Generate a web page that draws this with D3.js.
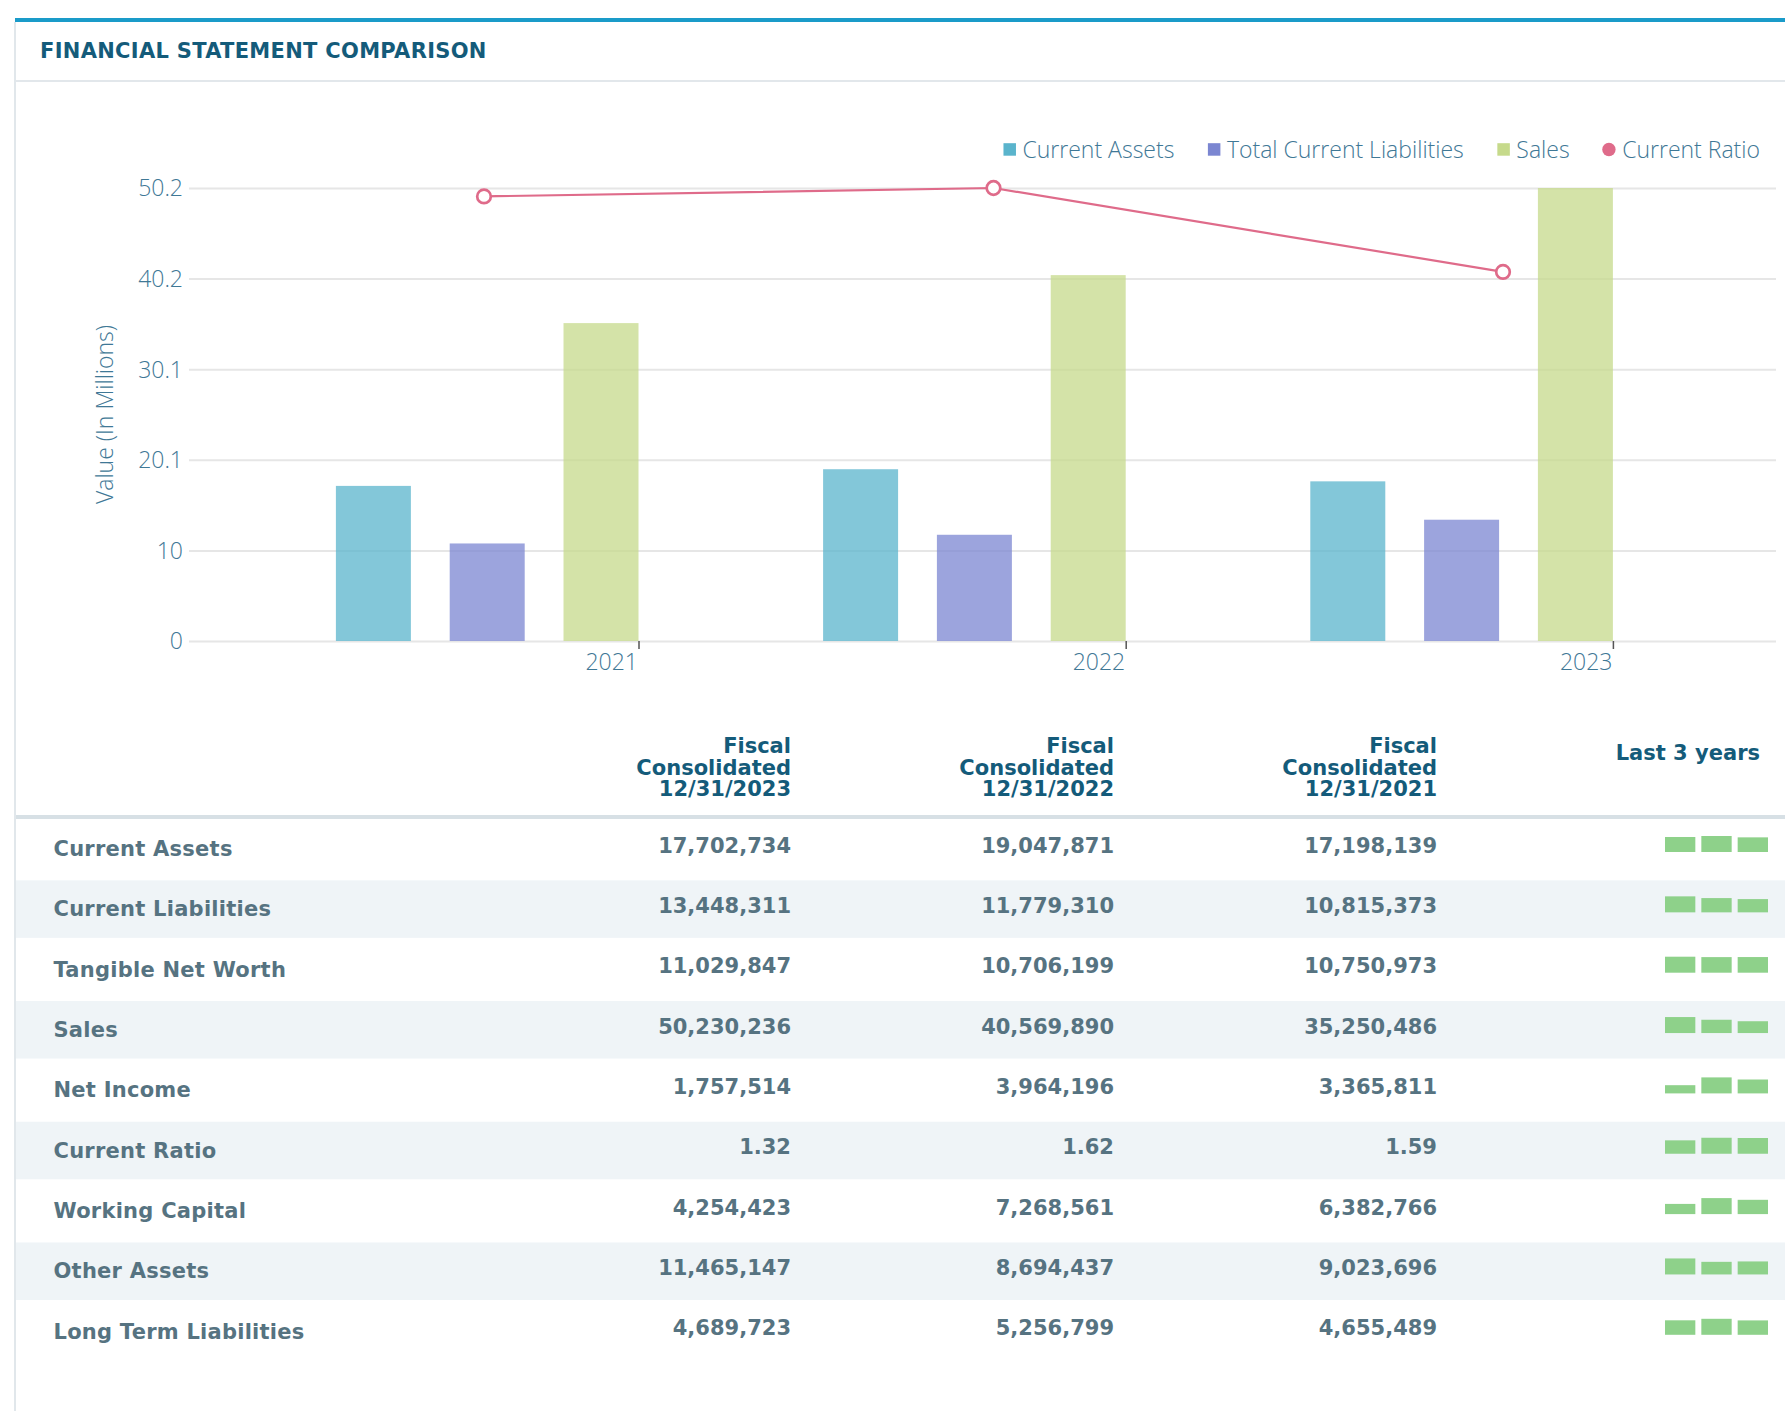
<!DOCTYPE html>
<html><head><meta charset="utf-8">
<script src="https://cdn.jsdelivr.net/npm/d3@7"></script>
<style>
html,body{margin:0;padding:0;background:#fff;}
svg{display:block;}
</style></head><body>
<svg id="c" width="1785" height="1411"></svg>
<script>
// ---------------- DATA ----------------
const years = ["2021", "2022", "2023"];
const seriesNames = ["Current Assets", "Total Current Liabilities", "Sales"];
const currentAssets = [17.198139, 19.047871, 17.702734];
const totalCurrentLiabilities = [10.815373, 11.779310, 13.448311];
const sales = [35.250486, 40.569890, 50.230236];
const currentRatio = [1.59, 1.62, 1.32];
const yTickValues = [0, 10.046, 20.092, 30.138, 40.184, 50.230236];
const yTickLabels = ["0", "10", "20.1", "30.1", "40.2", "50.2"];
const legendLabels = ["Current Assets", "Total Current Liabilities", "Sales", "Current Ratio"];
const seriesColors = ["#5ab4cc", "#7b86d1", "#c6da8b", "#df6b8a"];

const tableTitle = "FINANCIAL STATEMENT COMPARISON";
const columnHeaders = [
  ["Fiscal", "Consolidated", "12/31/2023"],
  ["Fiscal", "Consolidated", "12/31/2022"],
  ["Fiscal", "Consolidated", "12/31/2021"]
];
const trendHeader = "Last 3 years";
const rowLabels = ["Current Assets", "Current Liabilities", "Tangible Net Worth", "Sales", "Net Income",
  "Current Ratio", "Working Capital", "Other Assets", "Long Term Liabilities"];
const values2023 = [17702734, 13448311, 11029847, 50230236, 1757514, 1.32, 4254423, 11465147, 4689723];
const values2022 = [19047871, 11779310, 10706199, 40569890, 3964196, 1.62, 7268561, 8694437, 5256799];
const values2021 = [17198139, 10815373, 10750973, 35250486, 3365811, 1.59, 6382766, 9023696, 4655489];
const ratioRows = ["Current Ratio"];

// ---------------- STYLE ----------------
const FONT_C = "'Open Sans', 'Noto Sans', sans-serif";
const FONT_T = "'DejaVu Sans', sans-serif";
const CHART_FS = 23;
const AXIS_COLOR = "#3f7896";
const HEAD_COLOR = "#145b7a";
const ROW_COLOR = "#567381";

const svg = d3.select("#c");

// frame
svg.append("rect").attr("x", 15).attr("y", 18).attr("width", 1770).attr("height", 4).attr("fill", "#1a9bc9");
svg.append("rect").attr("x", 14).attr("y", 22).attr("width", 2).attr("height", 1389).attr("fill", "#e1e7eb");
svg.append("rect").attr("x", 16).attr("y", 80).attr("width", 1769).attr("height", 2).attr("fill", "#e2e7eb");
svg.append("text").attr("x", 40).attr("y", 58).text(tableTitle)
  .attr("font-family", FONT_T).attr("font-weight", "bold").attr("font-size", 21)
  .attr("letter-spacing", 0.3).attr("fill", HEAD_COLOR);

// ---------------- CHART ----------------
const plotLeft = 189, plotRight = 1776, plotTop = 188, plotBottom = 641;
const y = d3.scaleLinear().domain([0, d3.max(sales)]).range([plotBottom, plotTop]);
const yLine = d3.scaleLinear().domain([0, d3.max(currentRatio)]).range([plotBottom, plotTop]);
const xGroup = d3.scalePoint().domain(years).range([487.2, 1461.6]);
const xSub = d3.scaleBand().domain(seriesNames).range([-151.3, 151.3]).paddingInner(0.341);
const xLine = d3.scalePoint().domain(years).range([484, 1503]);

// y axis + grid
const yAxis = d3.axisLeft(y).tickValues(yTickValues).tickFormat((d, i) => yTickLabels[i])
  .tickSize(-(plotRight - plotLeft)).tickPadding(6);
const gy = svg.append("g").attr("transform", `translate(${plotLeft},0)`).call(yAxis);
gy.select(".domain").remove();
gy.selectAll(".tick line").attr("stroke", "#e6e6e6").attr("stroke-width", 2);
gy.selectAll(".tick text").attr("font-family", FONT_C).attr("font-weight", 300).attr("font-size", CHART_FS)
  .attr("fill", AXIS_COLOR).attr("dy", "0.34em");

svg.append("text").attr("transform", `translate(113,${(plotTop + plotBottom) / 2}) rotate(-90)`)
  .attr("text-anchor", "middle").text("Value (In Millions)")
  .attr("font-family", FONT_C).attr("font-weight", 300).attr("font-size", CHART_FS).attr("fill", AXIS_COLOR);

// bars
const seriesData = [currentAssets, totalCurrentLiabilities, sales];
const barG = svg.append("g");
seriesNames.forEach((name, si) => {
  barG.selectAll(null).data(years).enter().append("rect")
    .attr("x", d => xGroup(d) + xSub(name))
    .attr("width", xSub.bandwidth())
    .attr("y", (d, i) => y(seriesData[si][i]))
    .attr("height", (d, i) => y(0) - y(seriesData[si][i]))
    .attr("fill", seriesColors[si]).attr("fill-opacity", 0.75);
});

// x axis
const xAxis = d3.axisBottom(xGroup).tickSize(8).tickPadding(5);
const gx = svg.append("g").attr("transform", `translate(${xSub.range()[1]},${plotBottom})`).call(xAxis);
gx.select(".domain").remove();
gx.selectAll(".tick line").attr("stroke", "#555").attr("stroke-width", 1.5);
gx.selectAll(".tick text").attr("text-anchor", "end").attr("x", -1)
  .attr("font-family", FONT_C).attr("font-weight", 300).attr("font-size", CHART_FS).attr("fill", AXIS_COLOR);

// line
const line = d3.line().x((d, i) => xLine(years[i])).y(d => yLine(d));
svg.append("path").datum(currentRatio).attr("d", line).attr("fill", "none")
  .attr("stroke", seriesColors[3]).attr("stroke-width", 2.2);
svg.selectAll(null).data(currentRatio).enter().append("circle")
  .attr("cx", (d, i) => xLine(years[i])).attr("cy", d => yLine(d)).attr("r", 6.8)
  .attr("fill", "#fff").attr("stroke", seriesColors[3]).attr("stroke-width", 2.7);

// legend (right aligned)
const legG = svg.append("g");
const legY = 149.5;
let cursor = 1760;
const legItems = legendLabels.map((lab, i) => ({ lab, i }));
for (let k = legItems.length - 1; k >= 0; k--) {
  const it = legItems[k];
  const t = legG.append("text").text(it.lab).attr("font-family", FONT_C).attr("font-weight", 300)
    .attr("font-size", CHART_FS).attr("fill", AXIS_COLOR).attr("y", legY + 8.2);
  const w = t.node().getComputedTextLength();
  t.attr("x", cursor - w);
  const symRight = cursor - w - 6.5;
  if (k === 3) {
    legG.append("circle").attr("cx", symRight - 6.7).attr("cy", legY).attr("r", 6.7).attr("fill", seriesColors[k]);
  } else {
    legG.append("rect").attr("x", symRight - 12.5).attr("y", legY - 6.3).attr("width", 12.5).attr("height", 12.5)
      .attr("fill", seriesColors[k]);
  }
  cursor = symRight - 13 - 33;
}

// ---------------- TABLE ----------------
const colRight = [791, 1114, 1437];
const headerBaselines = [753.3, 774.5, 795.7];
const tg = svg.append("g");
columnHeaders.forEach((lines, c) => {
  lines.forEach((ln, j) => {
    tg.append("text").attr("x", colRight[c]).attr("y", headerBaselines[j]).attr("text-anchor", "end").text(ln)
      .attr("font-family", FONT_T).attr("font-weight", "bold").attr("font-size", 21).attr("fill", HEAD_COLOR);
  });
});
tg.append("text").attr("x", 1760).attr("y", 760).attr("text-anchor", "end").text(trendHeader)
  .attr("font-family", FONT_T).attr("font-weight", "bold").attr("font-size", 21).attr("fill", HEAD_COLOR);
tg.append("rect").attr("x", 16).attr("y", 815).attr("width", 1769).attr("height", 4).attr("fill", "#d7e0e5");

const rowPitch = 60.35, rowTop0 = 819;
const rowY = d3.scaleLinear().domain([0, 1]).range([rowTop0, rowTop0 + rowPitch]);
const fmtInt = d3.format(",");
const fmtRatio = d3.format(".2f");
const cols = [values2023, values2022, values2021];
const sparkX = d3.scaleBand().domain([0, 1, 2]).range([1665, 1768]).paddingInner(0.165);

rowLabels.forEach((lab, r) => {
  const top = rowY(r);
  if (r % 2 === 1) {
    tg.append("rect").attr("x", 16).attr("y", top + 1).attr("width", 1769).attr("height", 57.5).attr("fill", "#eff4f7");
  }
  tg.append("text").attr("x", 53.5).attr("y", top + 37).text(lab)
    .attr("font-family", FONT_T).attr("font-weight", "bold").attr("font-size", 21)
    .attr("letter-spacing", 0.25).attr("fill", ROW_COLOR);
  const isRatio = ratioRows.includes(lab);
  cols.forEach((col, c) => {
    tg.append("text").attr("x", colRight[c]).attr("y", top + 33.5).attr("text-anchor", "end")
      .text(isRatio ? fmtRatio(col[r]) : fmtInt(col[r]))
      .attr("font-family", FONT_T).attr("font-weight", "bold").attr("font-size", 21).attr("fill", ROW_COLOR);
  });
  const vals = cols.map(col => col[r]);
  const h = d3.scaleLinear().domain([0, d3.max(vals)]).range([2, 16]);
  const base = top + 33;
  tg.selectAll(null).data(vals).enter().append("rect")
    .attr("x", (d, i) => sparkX(i)).attr("width", sparkX.bandwidth())
    .attr("y", d => base - h(d)).attr("height", d => h(d)).attr("fill", "#8ed18a");
});
</script>
</body></html>
